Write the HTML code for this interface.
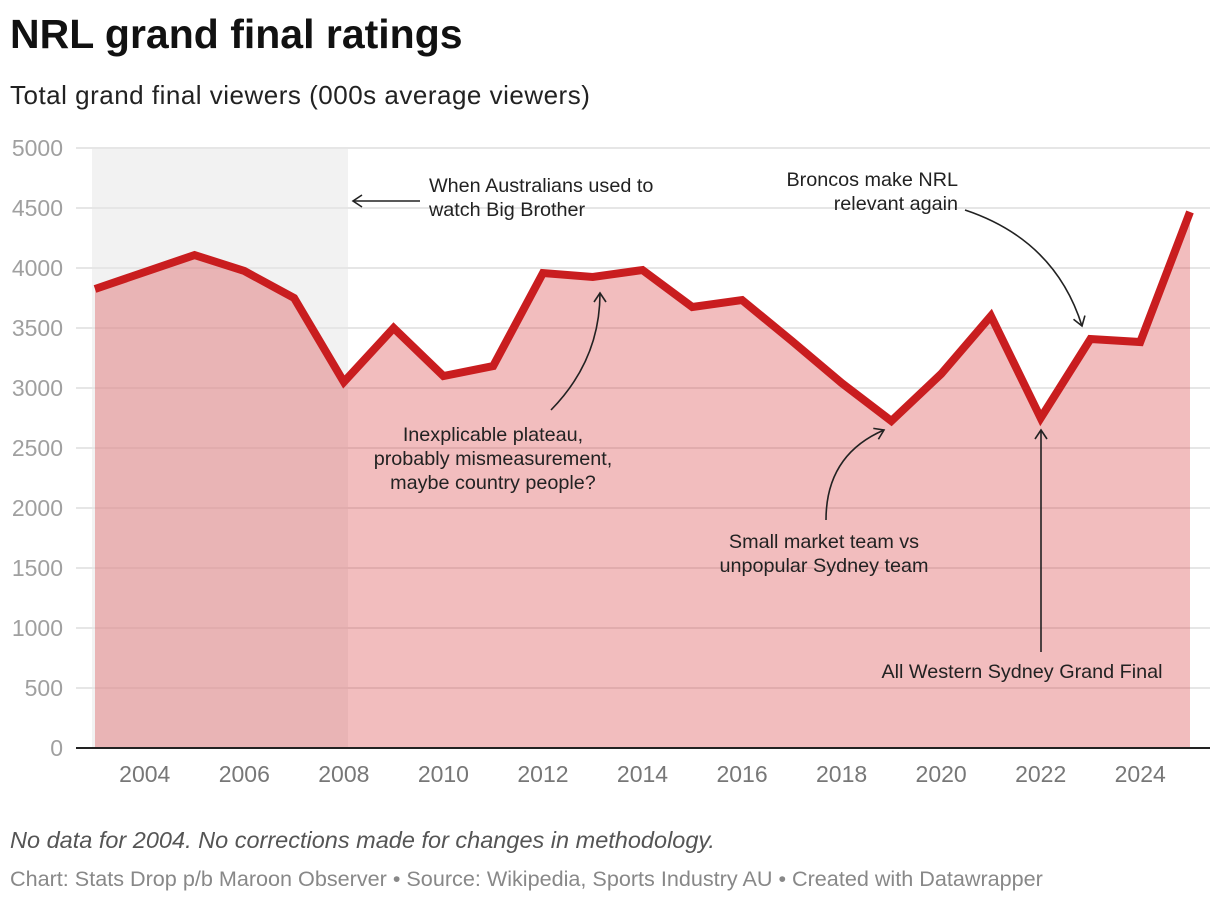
<!DOCTYPE html>
<html><head><meta charset="utf-8"><style>
body{margin:0;background:#fff;font-family:"Liberation Sans",sans-serif;}
#wrap{position:relative;width:1220px;height:902px;overflow:hidden}
.t{position:absolute;white-space:nowrap}
</style></head><body><div id="wrap">
<div class="t" style="left:10px;top:11px;font-size:41px;font-weight:bold;color:#111">NRL grand final ratings</div>
<div class="t" style="left:10px;top:80px;font-size:26px;letter-spacing:0.5px;color:#222">Total grand final viewers (000s average viewers)</div>
<svg id="chart" width="1220" height="902" style="position:absolute;left:0;top:0"></svg>
<div class="t" style="left:10px;top:827px;font-size:23.5px;font-style:italic;color:#555">No data for 2004. No corrections made for changes in methodology.</div>
<div class="t" style="left:10px;top:866px;font-size:21.6px;color:#888">Chart: Stats Drop p/b Maroon Observer • Source: Wikipedia, Sports Industry AU • Created with Datawrapper</div>
</div>
<script>
const years=[2003,2005,2006,2007,2008,2009,2010,2011,2012,2013,2014,2015,2016,2017,2018,2019,2020,2021,2022,2023,2024,2025];
const viewers=[3825,4108,3975,3750,3050,3500,3100,3183,3958,3925,3983,3675,3733,3392,3042,2725,3117,3600,2750,3408,3383,4467];
const yTicks=[0,500,1000,1500,2000,2500,3000,3500,4000,4500,5000];
const xTicks=[2004,2006,2008,2010,2012,2014,2016,2018,2020,2022,2024];
const NS="http://www.w3.org/2000/svg";
const svg=document.getElementById('chart');
const x=v=>95+(v-2003)*(1095/22);
const y=v=>748-v*0.12;
function el(tag,attrs,parent){const e=document.createElementNS(NS,tag);for(const k in attrs)e.setAttribute(k,attrs[k]);(parent||svg).appendChild(e);return e;}
const shade=el('rect',{x:92,y:148,width:256,height:600,fill:'#f2f2f2'});


yTicks.forEach(v=>{
 const g=el('line',{x1:76,x2:1210,y1:y(v),y2:y(v),stroke:'#e6e6e6','stroke-width':2});
 
 
 const t=el('text',{x:63,y:y(v)+8,'text-anchor':'end','font-size':23,fill:'#a0a0a0'});
 t.textContent=v;
 
 
});
let d='M'+x(years[0])+','+y(0);
years.forEach((yr,i)=>{d+=' L'+x(yr)+','+y(viewers[i]);});
d+=' L'+x(years[years.length-1])+','+y(0)+' Z';
const area=el('path',{d:d,fill:'#d9383a','fill-opacity':0.33});


const line=el('polyline',{points:years.map((yr,i)=>x(yr)+','+y(viewers[i])).join(' '),fill:'none',stroke:'#c91d1f','stroke-width':8,'stroke-linejoin':'miter'});


const base=el('line',{x1:76,x2:1210,y1:748,y2:748,stroke:'#222','stroke-width':2});


xTicks.forEach(v=>{
 const t=el('text',{x:x(v),y:782,'text-anchor':'middle','font-size':23,fill:'#777'});
 t.textContent=v;
 
 
});
function anno(name,lines,ax,ay,anchor){
 const t=el('text',{x:ax,y:ay,'text-anchor':anchor,'font-size':19.8,fill:'#222'});
 
 
 lines.forEach((l,i)=>{const s=el('tspan',{x:ax,dy:i?24:0},t);s.textContent=l;});
}
function arrow(name,d,hx,hy,ang){
 const g=el('g',{});
 
 
 el('path',{d:d,fill:'none',stroke:'#222','stroke-width':1.6},g);
 el('path',{d:'M-9,-6 L0,0 L-9,6',fill:'none',stroke:'#222','stroke-width':1.6,transform:`translate(${hx},${hy}) rotate(${ang})`},g);
}
anno('annotation-big-brother',['When Australians used to','watch Big Brother'],429,192,'start');
arrow('arrow-big-brother','M420,201 L353,201',353,201,180);
anno('annotation-plateau',['Inexplicable plateau,','probably mismeasurement,','maybe country people?'],493,441,'middle');
arrow('arrow-plateau','M551,410 Q600,360 600,293',600,293,-90);
anno('annotation-small-market',['Small market team vs','unpopular Sydney team'],824,548,'middle');
arrow('arrow-small-market','M826,520 Q826,455 884,430',884,430,-25);
anno('annotation-western-sydney',['All Western Sydney Grand Final'],1022,678,'middle');
arrow('arrow-western-sydney','M1041,652 L1041,430',1041,430,-90);
anno('annotation-broncos',['Broncos make NRL','relevant again'],958,186,'end');
arrow('arrow-broncos','M965,210 Q1055,240 1082,326',1082,326,72);
</script></body></html>
